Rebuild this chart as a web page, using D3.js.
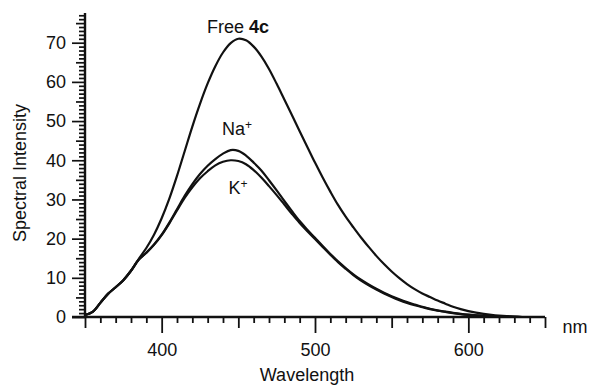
<!DOCTYPE html>
<html><head><meta charset="utf-8">
<script src="https://cdn.jsdelivr.net/npm/d3@7"></script>
<style>
html,body{margin:0;padding:0;background:#fff;}
svg text{font-family:"Liberation Sans",Arial,Helvetica,sans-serif;fill:#111;}
</style></head>
<body>
<svg id="chart" width="591" height="386"></svg>
<script>
const wavelengths = [350,355,360,365,370,375,380,385,390,395,400,405,410,415,420,425,430,435,440,445,450,455,460,465,470,475,480,485,490,495,500,505,510,515,520,525,530,535,540,545,550,555,560,565,570,575,580,585,590,595,600,605,610,615,620,625,630,635];
const freeValues = [0.5,1.3,3.6,5.9,7.6,9.4,11.8,14.8,17.6,21.0,25.2,30.2,36.0,42.3,48.6,54.4,59.6,64.0,67.5,69.9,71.0,70.6,69.0,66.5,63.3,59.5,55.5,51.5,47.4,43.4,39.4,35.6,32.0,28.6,25.6,22.9,20.3,17.9,15.6,13.5,11.6,9.9,8.4,7.1,6.0,5.1,4.2,3.4,2.6,2.0,1.5,1.1,0.8,0.55,0.35,0.2,0.1,0.0];
const naValues = [0.5,1.3,3.6,5.9,7.6,9.4,11.8,14.6,16.4,18.5,21.0,24.1,27.5,30.9,33.9,36.5,38.6,40.3,41.7,42.6,42.4,41.2,39.4,37.4,34.9,32.3,29.6,27.0,24.5,22.3,20.2,18.1,16.1,14.2,12.5,10.9,9.5,8.3,7.2,6.2,5.3,4.5,3.8,3.2,2.6,2.1,1.7,1.35,1.05,0.8,0.6,0.45,0.35,0.25,0.15,0.1,0.05,0];
const kValues = [0.5,1.3,3.6,5.9,7.6,9.4,11.8,14.6,16.4,18.4,20.9,23.9,27.2,30.4,33.1,35.4,37.2,38.7,39.6,40.0,39.8,39.0,37.5,35.6,33.4,31.1,28.7,26.3,24.0,21.9,19.9,17.9,15.9,14.0,12.3,10.7,9.3,8.1,7.0,6.0,5.1,4.3,3.6,3.0,2.5,2.0,1.6,1.3,1.0,0.75,0.55,0.4,0.3,0.2,0.15,0.1,0.05,0];
const xTickLabels = [400,500,600];
const yTickLabels = [0,10,20,30,40,50,60,70];

const svg = d3.select("#chart");
const x = d3.scaleLinear().domain([350,650]).range([85,545]);
const y = d3.scaleLinear().domain([0,70]).range([317,42.7]);
const yTop = 77.6;

// y axis ticks
const gy = svg.append("g").attr("transform",`translate(${x(350)},0)`);
gy.append("g").call(d3.axisLeft(y).tickValues(d3.range(0,78,1).filter(v=>v%5!==0)).tickSize(6).tickFormat(""));
gy.append("g").call(d3.axisLeft(y).tickValues(d3.range(5,78,10)).tickSize(9).tickFormat(""));
gy.append("g").call(d3.axisLeft(y).tickValues(yTickLabels).tickSize(13).tickPadding(6).tickFormat(d3.format("d")));
gy.selectAll(".domain").remove();
gy.selectAll("line").attr("stroke","#111").attr("stroke-width",1.7);
gy.selectAll("text").attr("font-size",18).style("font-family","'Liberation Sans',Arial,sans-serif").attr("fill","#111");

// x axis ticks
const gx = svg.append("g").attr("transform",`translate(0,${y(0)})`);
gx.append("g").call(d3.axisBottom(x).tickValues(d3.range(360,650,10).filter(v=>v%50!==0)).tickSize(6).tickFormat(""));
gx.append("g").call(d3.axisBottom(x).tickValues([350,450,550,650]).tickSize(11).tickFormat(""));
gx.append("g").call(d3.axisBottom(x).tickValues(xTickLabels).tickSize(16).tickPadding(10).tickFormat(d3.format("d")));
gx.selectAll(".domain").remove();
gx.selectAll("line").attr("stroke","#111").attr("stroke-width",1.8);
gx.selectAll("text").attr("font-size",18).style("font-family","'Liberation Sans',Arial,sans-serif").attr("fill","#111");

// axis lines
svg.append("line").attr("x1",x(350)).attr("x2",x(350)).attr("y1",y(0)).attr("y2",y(yTop)).attr("stroke","#111").attr("stroke-width",2.4);
svg.append("line").attr("x1",x(350)-13).attr("x2",x(650)).attr("y1",y(0)).attr("y2",y(0)).attr("stroke","#111").attr("stroke-width",2.4);

// curves
const line = d3.line().x((d,i)=>x(wavelengths[i])).y(d=>y(d)).curve(d3.curveCatmullRom);
[freeValues,naValues,kValues].forEach(s=>{
  svg.append("path").attr("d",line(s)).attr("fill","none").attr("stroke","#111").attr("stroke-width",2.2).attr("stroke-linejoin","round");
});

// annotations
const t1 = svg.append("text").attr("x",238).attr("y",33).attr("text-anchor","middle").attr("font-size",18);
t1.append("tspan").text("Free ");
t1.append("tspan").attr("font-weight","bold").text("4c");
const t2 = svg.append("text").attr("x",237).attr("y",135).attr("text-anchor","middle").attr("font-size",18);
t2.append("tspan").text("Na");
t2.append("tspan").attr("font-size",12).attr("dy",-6).text("+");
const t3 = svg.append("text").attr("x",238).attr("y",194).attr("text-anchor","middle").attr("font-size",18);
t3.append("tspan").text("K");
t3.append("tspan").attr("font-size",12).attr("dy",-6).text("+");

// axis titles
svg.append("text").attr("transform",`translate(26,${(y(0)+y(yTop))/2+8}) rotate(-90)`).attr("text-anchor","middle").attr("font-size",18).text("Spectral Intensity");
svg.append("text").attr("x",307).attr("y",381).attr("text-anchor","middle").attr("font-size",18).text("Wavelength");
svg.append("text").attr("x",575).attr("y",333).attr("text-anchor","middle").attr("font-size",18).text("nm");
</script>
</body></html>
